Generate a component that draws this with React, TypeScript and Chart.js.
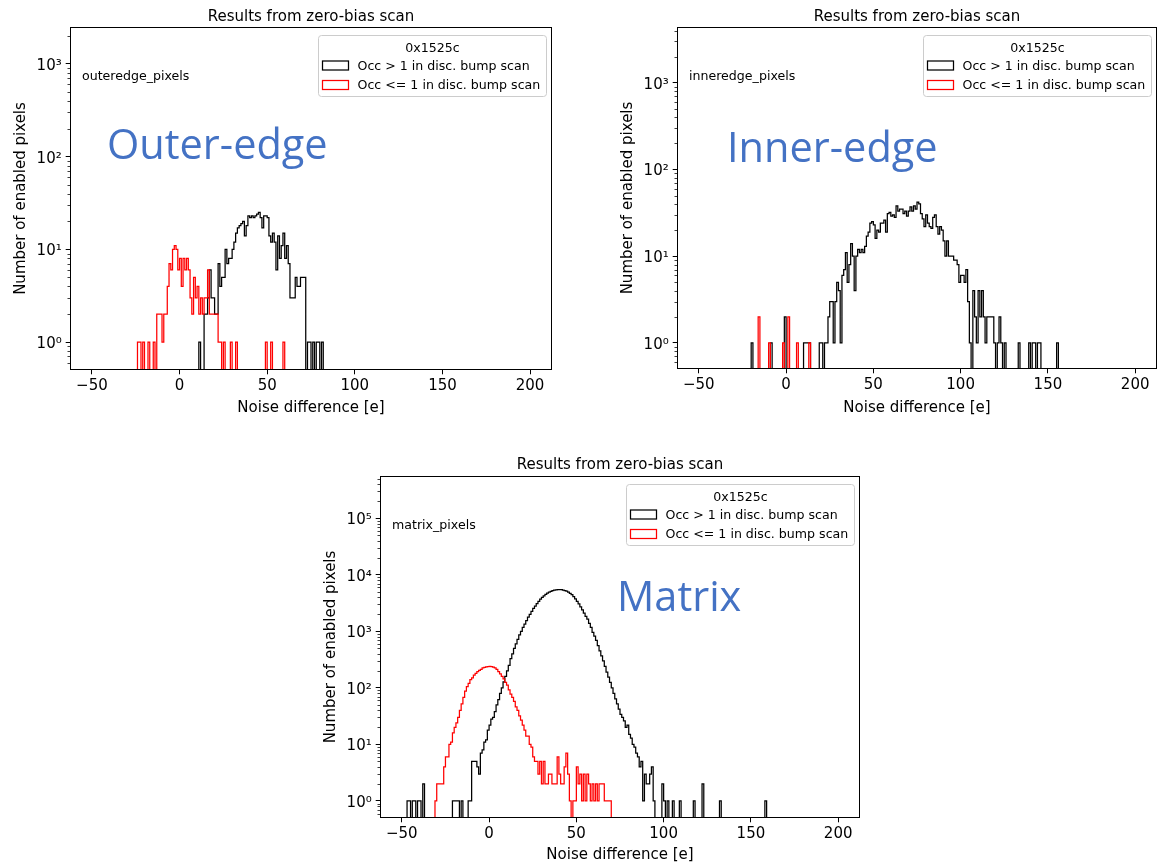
import React, { useEffect, useRef } from 'react';
import { Chart, registerables } from 'chart.js';

Chart.register(...registerables);

const FONT = "'DejaVu Sans', sans-serif";
Chart.defaults.font.family = FONT;
Chart.defaults.color = '#000000';

// ---------------- text ----------------
const PLOT_TITLE = 'Results from zero-bias scan';
const X_LABEL = 'Noise difference [e]';
const Y_LABEL = 'Number of enabled pixels';
const LEGEND_TITLE = '0x1525c';
const SERIES_LABELS = ['Occ > 1 in disc. bump scan', 'Occ <= 1 in disc. bump scan'];
const SERIES_COLORS = ['#000000', '#ff0000'];
const PANEL_TAGS = ['outeredge_pixels', 'inneredge_pixels', 'matrix_pixels'];
const PANEL_NAMES = ['Outer-edge', 'Inner-edge', 'Matrix'];

// ---------------- axes ----------------
const X_TICKS = [-50, 0, 50, 100, 150, 200];
const X_RANGE = [-62.5, 212.5];
const HIST_RANGE = [-50, 200];
const BIN_WIDTH = 1;
const Y_MIN = 0.5;
const Y_MAXES = [2500, 4400, 560000];

// ---------------- data (counts per 1 e bin, starting at the given bin edge) ----------------
// Outer-edge
const outerBlackStart = 11;
const outerBlackCounts = [
  1, 0, 0, 2, 2, 3, 6, 3, 3, 2,
  2, 7, 4, 5, 5, 10, 7, 8, 8, 10,
  12, 15, 17, 18, 19, 20, 14, 18, 23, 22,
  23, 22, 23, 24, 25, 22, 17, 23, 23, 22,
  14, 12, 15, 12, 6, 14, 8, 11, 15, 8,
  11, 7, 3, 3, 3, 5, 4, 4, 5, 5,
  5, 0, 1, 1, 0, 1, 0, 1, 1, 0, 1,
];
const outerBlackExtra: number[][] = [];
const outerRedStart = -24;
const outerRedCounts = [
  1, 1, 0, 1, 0, 0, 1, 0, 0, 1,
  0, 2, 2, 2, 1, 2, 2, 4, 7, 6,
  10, 11, 10, 6, 8, 4, 8, 6, 8, 6,
  3, 2, 5, 3, 4, 2, 3, 2, 3, 3,
  6, 2, 2, 2, 2, 2, 1, 1, 0, 1,
  0, 0, 0, 1, 0, 0, 1,
];
const outerRedExtra = [[49, 1], [52, 1], [59, 1]];

// Inner-edge
const innerBlackStart = 19;
const innerBlackCounts = [
  1, 1, 0, 1, 1, 2, 3, 3, 1, 3,
  5, 4, 1, 6, 7, 11, 5, 8, 14, 10,
  4, 10, 12, 11, 12, 11, 13, 17, 19, 24,
  25, 23, 16, 20, 19, 24, 24, 26, 19, 31,
  32, 29, 30, 28, 38, 33, 35, 35, 31, 33,
  29, 33, 37, 33, 38, 35, 42, 40, 31, 27,
  22, 30, 24, 22, 21, 28, 30, 22, 18, 22,
  20, 15, 10, 15, 10, 10, 10, 9, 9, 8,
  5, 6, 6, 5, 7, 3, 1, 0, 4, 2,
  1, 4, 2, 4, 2, 1, 2, 2, 2, 2,
  1, 0, 1, 2, 1, 0, 1,
];
const innerBlackExtra = [
  [-20, 1], [-9, 1], [-1, 2], [10, 1], [11, 1], [12, 1], [13, 1],
  [133, 1], [139, 1], [141, 1], [142, 1], [144, 1], [145, 1], [155, 1],
];
const innerRedStart = 0;
const innerRedCounts: number[] = [];
const innerRedExtra = [[-16, 2], [-10, 1], [-2, 1], [1, 2], [6, 1], [13, 1]];

// Matrix
const matrixBlackStart = -12;
const matrixBlackCounts = [
  1, 1, 5, 5, 5, 4, 3, 7, 8, 11,
  12, 18, 22, 28, 30, 38, 50, 62, 80, 100,
  128, 160, 200, 250, 330, 400, 500, 600, 720, 870,
  1000, 1180, 1350, 1550, 1780, 2000, 2250, 2550, 2800, 3100,
  3400, 3700, 4000, 4250, 4500, 4750, 4950, 5100, 5250, 5350,
  5420, 5480, 5500, 5450, 5380, 5280, 5150, 4950, 4700, 4450,
  4100, 3750, 3400, 3050, 2700, 2400, 2100, 1850, 1650, 1380,
  1180, 960, 820, 690, 560, 450, 370, 300, 240, 190,
  155, 125, 100, 80, 64, 52, 42, 34, 30, 26,
  20, 22, 15, 13, 10, 9, 7, 6, 4, 5,
  1, 3, 2, 2, 3, 4, 1,
];
const matrixBlackExtra = [
  [-47, 1], [-46, 1], [-44, 1], [-43, 1], [-41, 1], [-40, 1], [-38, 2],
  [-21, 1], [-20, 1], [-19, 1], [-18, 1], [-16, 1],
  [99, 2], [100, 1], [102, 1], [105, 1], [109, 1], [117, 1], [122, 2], [132, 1], [158, 1],
];
const matrixRedStart = -31;
const matrixRedCounts = [
  1, 2, 2, 2, 2, 4, 6, 6, 10, 11,
  16, 20, 24, 30, 40, 52, 68, 88, 105, 120,
  140, 150, 168, 180, 195, 205, 212, 225, 230, 235,
  238, 240, 238, 232, 225, 212, 195, 178, 160, 145,
  125, 112, 92, 78, 68, 58, 46, 40, 32, 27,
  22, 18, 14, 14, 10, 9, 6, 5, 5, 3,
  5, 2, 5, 2, 2, 3, 3, 2, 2, 2,
  6, 3, 2, 2, 4, 7, 3, 1, 0, 1,
  1, 4, 2, 3, 1, 3, 1, 3, 2, 1,
  2, 1, 2, 1, 2, 2, 2, 1, 1, 1, 1,
];
const matrixRedExtra: number[][] = [];

// ---------------- layout (positions only) ----------------
const LAYOUT = [
  { left: 0, top: 0, width: 600, height: 420, pad: { top: 6, right: 48, bottom: 0, left: 0 }, titleTop: 2, titleGap: 1, yAxisW: 70, xAxisH: 50, yTitlePad: 12, xTitlePad: 3 },
  { left: 600, top: 0, width: 557, height: 420, pad: { top: 6, right: 0, bottom: 0, left: 0 }, titleTop: 2, titleGap: 1, yAxisW: 77, xAxisH: 51, yTitlePad: 19, xTitlePad: 3 },
  { left: 300, top: 450, width: 600, height: 416, pad: { top: 4, right: 40, bottom: 0, left: 0 }, titleTop: 2, titleGap: 2, yAxisW: 80, xAxisH: 48, yTitlePad: 22, xTitlePad: 2 },
];
const NAME_POS = [
  { left: 107, top: 123 },
  { left: 727, top: 126 },
  { left: 617, top: 575 },
];

const FLOOR = 0.05;
const SUP: Record<string, string> = { '0': '\u2070', '1': '\u00b9', '2': '\u00b2', '3': '\u00b3', '4': '\u2074', '5': '\u2075', '6': '\u2076' };

function buildSteps(start: number, counts: number[], extras: number[][]) {
  const byBin: Record<number, number> = {};
  counts.forEach((c, i) => { byBin[start + i * BIN_WIDTH] = c; });
  extras.forEach(([b, c]) => { byBin[b] = (byBin[b] || 0) + c; });
  const pts: { x: number; y: number }[] = [{ x: HIST_RANGE[0], y: FLOOR }];
  for (let b = HIST_RANGE[0]; b < HIST_RANGE[1]; b += BIN_WIDTH) {
    const c = byBin[b] || 0;
    pts.push({ x: b, y: c > 0 ? c : FLOOR });
  }
  pts.push({ x: HIST_RANGE[1], y: FLOOR });
  return pts;
}

const SERIES = [
  [buildSteps(outerBlackStart, outerBlackCounts, outerBlackExtra), buildSteps(outerRedStart, outerRedCounts, outerRedExtra)],
  [buildSteps(innerBlackStart, innerBlackCounts, innerBlackExtra), buildSteps(innerRedStart, innerRedCounts, innerRedExtra)],
  [buildSteps(matrixBlackStart, matrixBlackCounts, matrixBlackExtra), buildSteps(matrixRedStart, matrixRedCounts, matrixRedExtra)],
];

function decades(max: number) {
  const out: number[] = [];
  for (let e = 0; Math.pow(10, e) <= max; e++) out.push(Math.pow(10, e));
  return out;
}
function minors(max: number) {
  const out: number[] = [];
  for (let e = -1; Math.pow(10, e) <= max; e++) {
    for (let m = 2; m <= 9; m++) {
      const v = m * Math.pow(10, e);
      if (v > Y_MIN && v < max) out.push(v);
    }
  }
  return out;
}

function roundRectPath(ctx: CanvasRenderingContext2D, x: number, y: number, w: number, h: number, r: number) {
  ctx.beginPath();
  ctx.moveTo(x + r, y);
  ctx.lineTo(x + w - r, y);
  ctx.quadraticCurveTo(x + w, y, x + w, y + r);
  ctx.lineTo(x + w, y + h - r);
  ctx.quadraticCurveTo(x + w, y + h, x + w - r, y + h);
  ctx.lineTo(x + r, y + h);
  ctx.quadraticCurveTo(x, y + h, x, y + h - r);
  ctx.lineTo(x, y + r);
  ctx.quadraticCurveTo(x, y, x + r, y);
  ctx.closePath();
}

const decorPlugin = {
  id: 'decor',
  afterDatasetsDraw(chart: any, _args: any, opts: any) {
    const { ctx, chartArea: a } = chart;
    const ys = chart.scales.y;
    ctx.save();
    ctx.strokeStyle = '#000';
    ctx.lineWidth = 0.75;
    for (const v of opts.minor) {
      const py = Math.round(ys.getPixelForValue(v)) + 0.5;
      ctx.beginPath();
      ctx.moveTo(a.left - 2.5, py);
      ctx.lineTo(a.left, py);
      ctx.stroke();
    }
    ctx.lineWidth = 1;
    ctx.strokeRect(a.left + 0.5, a.top + 0.5, a.right - a.left - 1, a.bottom - a.top - 1);

    ctx.fillStyle = '#000';
    ctx.font = `12.6px ${FONT}`;
    ctx.textAlign = 'left';
    ctx.textBaseline = 'middle';
    ctx.fillText(opts.tag, a.left + 12, a.top + 49.5);

    const w = 228, h = 61;
    const lx = Math.round(a.right - 6 - w) + 0.5;
    const ly = Math.round(a.top + 8) + 0.5;
    roundRectPath(ctx, lx, ly, w, h, 3);
    ctx.fillStyle = 'rgba(255,255,255,0.8)';
    ctx.fill();
    ctx.strokeStyle = '#cccccc';
    ctx.lineWidth = 1;
    ctx.stroke();
    ctx.fillStyle = '#000';
    ctx.textAlign = 'center';
    ctx.fillText(LEGEND_TITLE, lx + w / 2, ly + 13);
    SERIES_LABELS.forEach((lab, i) => {
      const cy = ly + 30 + i * 19.5;
      ctx.strokeStyle = SERIES_COLORS[i];
      ctx.lineWidth = 1.25;
      ctx.strokeRect(lx + 4, cy - 4.5, 26, 9);
      ctx.textAlign = 'left';
      ctx.fillStyle = '#000';
      ctx.fillText(lab, lx + 39, cy + 1);
    });
    ctx.restore();
  },
};

function fmtX(v: number) {
  return v < 0 ? '\u2212' + Math.abs(v) : String(v);
}

function Panel({ idx }: { idx: number }) {
  const ref = useRef<HTMLCanvasElement>(null);
  const L = LAYOUT[idx];
  useEffect(() => {
    const yMax = Y_MAXES[idx];
    const chart = new Chart(ref.current as HTMLCanvasElement, {
      type: 'line',
      data: {
        datasets: SERIES[idx].map((pts, i) => ({
          label: SERIES_LABELS[i],
          data: pts,
          borderColor: SERIES_COLORS[i],
          backgroundColor: SERIES_COLORS[i],
          borderWidth: 1.25,
          pointRadius: 0,
          pointHoverRadius: 0,
          stepped: true,
          fill: false,
          tension: 0,
          clip: 0,
          order: 2 - i,
        })),
      },
      options: {
        responsive: false,
        animation: false,
        events: [],
        devicePixelRatio: 1,
        layout: { padding: L.pad },
        plugins: {
          legend: { display: false },
          tooltip: { enabled: false },
          title: {
            display: true,
            text: PLOT_TITLE,
            fullSize: false,
            color: '#000',
            font: { size: 15, family: FONT, weight: 'normal' },
            padding: { top: L.titleTop, bottom: L.titleGap },
          },
          decor: { minor: minors(yMax), tag: PANEL_TAGS[idx] },
        } as any,
        scales: {
          x: {
            type: 'linear',
            min: X_RANGE[0],
            max: X_RANGE[1],
            bounds: 'data',
            afterBuildTicks: (s: any) => { s.ticks = X_TICKS.map((v) => ({ value: v })); },
            afterFit: (s: any) => { s.height = L.xAxisH; },
            ticks: { autoSkip: false, maxRotation: 0, padding: 3, font: { size: 15 }, color: '#000', callback: (v: any) => fmtX(Number(v)) },
            grid: { display: true, drawOnChartArea: false, drawTicks: true, tickLength: 4.3, tickColor: '#000', tickWidth: 1 },
            border: { display: false },
            title: { display: true, text: X_LABEL, color: '#000', font: { size: 15 }, padding: { top: 0, bottom: L.xTitlePad } },
          },
          y: {
            type: 'logarithmic',
            min: Y_MIN,
            max: yMax,
            bounds: 'data',
            afterBuildTicks: (s: any) => { s.ticks = decades(yMax).map((v) => ({ value: v, major: true })); },
            afterFit: (s: any) => { s.width = L.yAxisW; },
            ticks: {
              autoSkip: false,
              padding: 4,
              labelOffset: 2,
              font: { size: 15 },
              color: '#000',
              callback: (v: any) => '10' + String(Math.round(Math.log10(Number(v)))).split('').map((d) => SUP[d]).join(''),
            },
            grid: { display: true, drawOnChartArea: false, drawTicks: true, tickLength: 4.3, tickColor: '#000', tickWidth: 1 },
            border: { display: false },
            title: { display: true, text: Y_LABEL, color: '#000', font: { size: 15 }, padding: { top: L.yTitlePad, bottom: 0 } },
          },
        },
      } as any,
      plugins: [decorPlugin as any],
    });
    return () => chart.destroy();
  }, [idx]);
  return (
    <canvas
      ref={ref}
      width={L.width}
      height={L.height}
      style={{ position: 'absolute', left: L.left, top: L.top, width: L.width, height: L.height }}
    />
  );
}

export default function App() {
  return (
    <div style={{ position: 'absolute', left: 0, top: 0, width: 1157, height: 866, background: '#ffffff', overflow: 'hidden' }}>
      {LAYOUT.map((_, i) => <Panel key={i} idx={i} />)}
      {PANEL_NAMES.map((name, i) => (
        <div
          key={name}
          style={{
            position: 'absolute',
            left: NAME_POS[i].left,
            top: NAME_POS[i].top,
            fontFamily: "'Open Sans', sans-serif",
            fontSize: 41.5,
            lineHeight: 1,
            color: '#4472C4',
            whiteSpace: 'nowrap',
          }}
        >
          {name}
        </div>
      ))}
    </div>
  );
}
